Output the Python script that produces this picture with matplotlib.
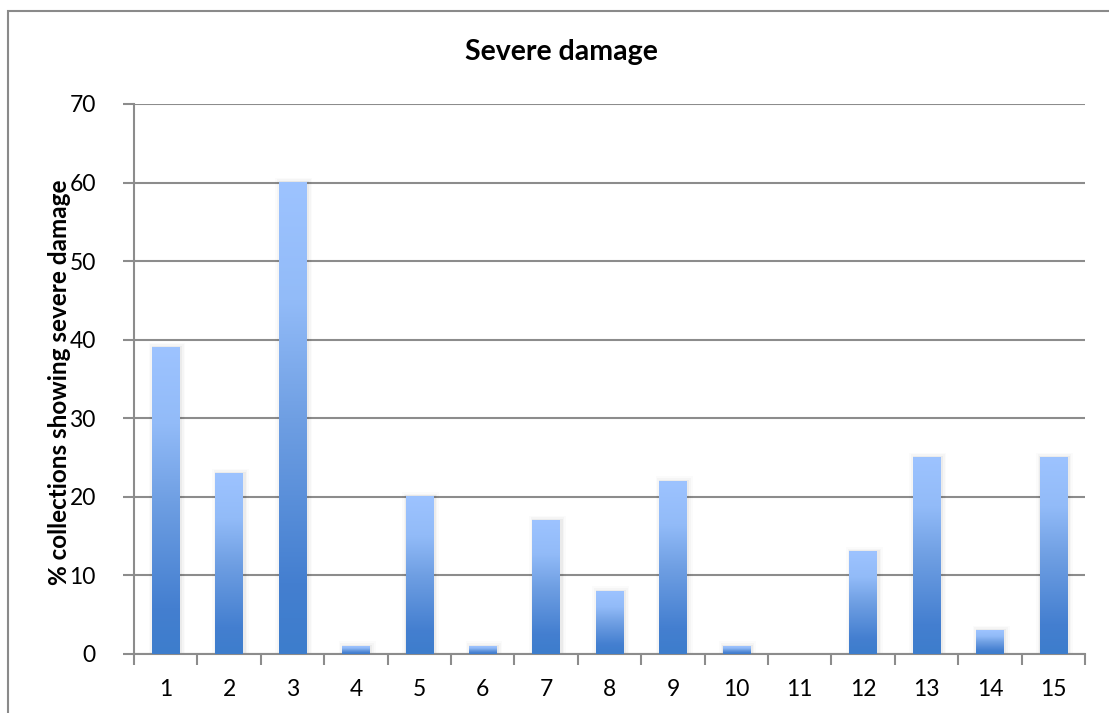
import matplotlib
matplotlib.use("Agg")
import matplotlib.pyplot as plt
import numpy as np
from matplotlib.colors import LinearSegmentedColormap
from matplotlib.patches import Rectangle

categories = [str(i) for i in range(1, 16)]
values = [39, 23, 60, 1, 20, 1, 17, 8, 22, 1, 0, 13, 25, 3, 25]
y_ticks = [0, 10, 20, 30, 40, 50, 60, 70]

title = "Severe damage"
y_label = "% collections showing severe damage"

plt.rcParams["font.family"] = ["Lato", "DejaVu Sans"]

grid_color = "#8c8c8c"
bar_cmap = LinearSegmentedColormap.from_list(
    "bar_grad",
    [(0.0, "#3d7dcc"), (0.15, "#447fd0"), (0.5, "#6f9fe3"),
     (0.75, "#92bbf8"), (1.0, "#9dc3ff")],
)

fig = plt.figure(figsize=(11.09, 7.13), dpi=100)
fig.patch.set_facecolor("white")

# outer chart frame
fig.add_artist(Rectangle((8 / 1109, -0.1), 1.2, 1 - 11 / 713 + 0.1,
                         transform=fig.transFigure, fill=False,
                         edgecolor="#8a8a8a", linewidth=1.5, zorder=0))

ax = fig.add_axes([134 / 1109, 59 / 713, (1085 - 134) / 1109, (654 - 104) / 713])

x = np.arange(1, len(values) + 1)
width = 0.43
bars = ax.bar(x, values, width=width, color="none", edgecolor="none", zorder=3)

grad = np.linspace(0, 1, 256).reshape(-1, 1)
for rect in bars:
    x0 = rect.get_x()
    h = rect.get_height()
    if h <= 0:
        continue
    # soft shadow
    for k, a in enumerate([0.04, 0.025, 0.015]):
        pad = 0.025 * (k + 1)
        ax.add_patch(Rectangle((x0 - pad + 0.02, 0), rect.get_width() + 2 * pad,
                               h + 0.2 * (k + 1), facecolor="black", alpha=a,
                               edgecolor="none", zorder=2))
    ax.imshow(grad, extent=[x0, x0 + rect.get_width(), 0, h], origin="lower",
              aspect="auto", cmap=bar_cmap, zorder=3, interpolation="bilinear")

ax.set_xlim(0.5, len(values) + 0.5)
ax.set_ylim(0, 70)
ax.set_yticks(y_ticks)
ax.set_yticklabels([str(v) for v in y_ticks], fontsize=16.5)

ax.set_xticks(x)
ax.set_xticklabels(categories, fontsize=16.5)
ax.set_xticks(np.arange(0.5, len(values) + 1, 1), minor=True)
ax.tick_params(axis="x", which="major", length=0, pad=18)
ax.tick_params(axis="x", which="minor", length=8, width=1.5, color=grid_color, direction="out")
ax.tick_params(axis="y", length=8, width=1.5, color=grid_color, direction="out", pad=19.5)

ax.grid(axis="y", color=grid_color, linewidth=1.5, zorder=1)
ax.set_axisbelow(True)
for side in ("top", "right"):
    ax.spines[side].set_visible(False)
for side in ("left", "bottom"):
    ax.spines[side].set_color(grid_color)
    ax.spines[side].set_linewidth(1.5)

fig.text(60 / 1109, 1 - 382 / 713, y_label, rotation=90, ha="center", va="center",
         fontsize=17.5, fontweight="bold")
fig.text(561 / 1109, 1 - 52 / 713, title, ha="center", va="center",
         fontsize=20.5, fontweight="bold")

fig.savefig("out.png", dpi=100, facecolor="white")
